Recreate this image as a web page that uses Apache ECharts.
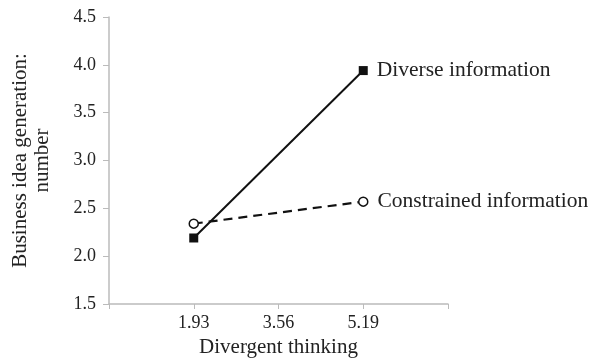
<!DOCTYPE html>
<html><head><meta charset="utf-8">
<script src="https://cdn.jsdelivr.net/npm/echarts@6/dist/echarts.min.js"></script>
<style>html,body{margin:0;padding:0;background:#fff}#c{width:597px;height:363px}</style>
</head><body><div id="c"></div>
<script>
const categories = ['', '1.93', '3.56', '5.19', ''];
const diverseValues = [null, 2.19, null, 3.94, null];
const constrainedValues = [null, 2.34, null, 2.57, null];
const diverseName = 'Diverse information';
const constrainedName = 'Constrained information';
const yTitle = 'Business idea generation:\nnumber';
const xTitle = 'Divergent thinking';

const FONT = '"Liberation Serif", "DejaVu Serif", serif';
function withEndLabel(vals, text) {
  let last = -1;
  vals.forEach((v, i) => { if (v != null) last = i; });
  return vals.map((v, i) => i === last ? {value: v, label: {show: true, position: 'right', distance: 9, formatter: text, color: '#222', fontFamily: FONT, fontSize: 21.5}} : v);
}
const chart = echarts.init(document.getElementById('c'), null, {renderer: 'canvas'});
chart.setOption({
  animation: false,
  grid: {left: 109, top: 17, right: 149, bottom: 54},
  xAxis: {
    type: 'category', data: categories, boundaryGap: false,
    name: xTitle, nameLocation: 'middle', nameGap: 33,
    nameTextStyle: {fontFamily: FONT, fontSize: 21, color: '#222'},
    axisLine: {lineStyle: {color: '#bbb', width: 1.5}},
    axisTick: {show: true, length: 5, lineStyle: {color: '#bbb'}},
    axisLabel: {fontFamily: FONT, fontSize: 18, color: '#222', margin: 10},
    splitLine: {show: false}
  },
  yAxis: {
    type: 'value', min: 1.5, max: 4.5, interval: 0.5,
    name: yTitle, nameLocation: 'middle', nameGap: 56, nameRotate: 90,
    nameTextStyle: {fontFamily: FONT, fontSize: 21, color: '#222', lineHeight: 22},
    axisLine: {show: true, lineStyle: {color: '#bbb', width: 1.5}},
    axisTick: {show: true, length: 6, lineStyle: {color: '#bbb'}},
    axisLabel: {fontFamily: FONT, fontSize: 18, color: '#222', margin: 13, formatter: v => v.toFixed(1)},
    splitLine: {show: false}
  },
  series: [
    {
      name: diverseName, type: 'line', data: withEndLabel(diverseValues, diverseName),
      connectNulls: true, symbol: 'rect', symbolSize: 9,
      lineStyle: {color: '#111', width: 2, type: 'solid'},
      itemStyle: {color: '#111', borderColor: '#111', borderWidth: 0},
      z: 2
    },
    {
      name: constrainedName, type: 'line', data: withEndLabel(constrainedValues, constrainedName),
      connectNulls: true, symbol: 'circle', symbolSize: 9,
      lineStyle: {color: '#111', width: 2.2, type: [9, 6]},
      itemStyle: {color: '#fff', borderColor: '#111', borderWidth: 1.5},
      z: 3
    }
  ]
});
</script></body></html>
